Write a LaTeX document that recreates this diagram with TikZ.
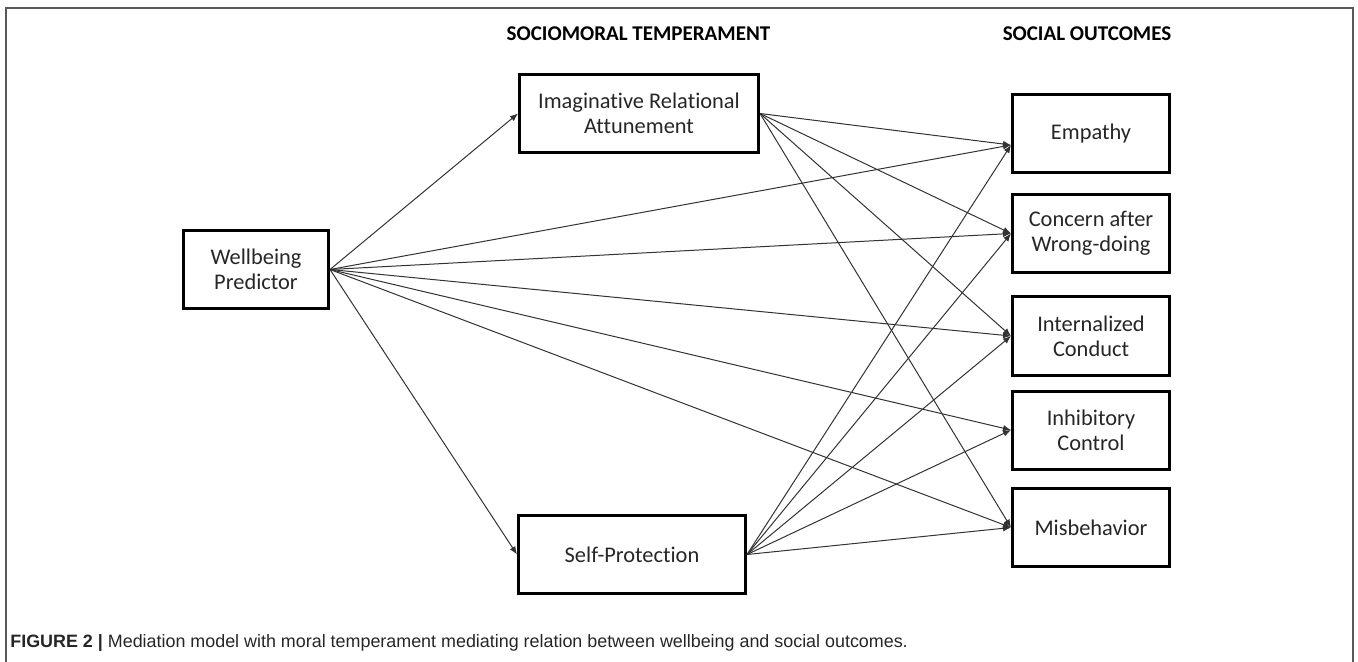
\documentclass[tikz,border=0pt]{standalone}
\usepackage{fontspec}
\setmainfont{Carlito}[Ligatures=CommonOff]
\newfontfamily\capfont{Liberation Sans}
\usetikzlibrary{calc, arrows.meta}

\begin{document}
\begin{tikzpicture}[x=0.5pt, y=-0.5pt, >={Latex[length=4pt, width=3.2pt]},
  box/.style={draw, line width=1.5pt, inner sep=0pt, align=center,
    text=black!85, font=\fontsize{11.2}{12.5}\selectfont},
  link/.style={->, line width=0.5pt, draw=black!80},
  head/.style={font=\fontsize{10.5}{12}\selectfont\bfseries}]
  \useasboundingbox (0,0) rectangle (1358,662);
  \draw [line width=0.75pt, black!65] (6,662) -- (6,8) -- (1353,8) -- (1353,662);
  % column titles
  \node (headsm) at (638.5,33.5) [head] {SOCIOMORAL TEMPERAMENT};
  \node (headso) at (1087,33.5) [head] {SOCIAL OUTCOMES};
  % predictor and mediators
  \node (well) at (256,269.5) [box, minimum width=72.5pt, minimum height=39pt] {Wellbeing\\Predictor};
  \node (ira) at (639,113.5) [box, minimum width=119.5pt, minimum height=39pt] {Imaginative Relational\\Attunement};
  \node (self) at (632,554.5) [box, minimum width=113.5pt, minimum height=39pt] {Self-Protection};
  % outcomes
  \node (emp) at (1091,133.5) [box, minimum width=78.5pt, minimum height=39pt] {Empathy};
  \node (con) at (1091,233.5) [box, minimum width=78.5pt, minimum height=39pt] {Concern after\\Wrong-doing};
  \node (int) at (1091,336) [box, minimum width=78.5pt, minimum height=39pt] {Internalized\\Conduct};
  \node (inh) at (1091,430) [box, minimum width=78.5pt, minimum height=39pt] {Inhibitory\\Control};
  \node (mis) at (1091,527.5) [box, minimum width=78.5pt, minimum height=39pt] {Misbehavior};
  \coordinate (empin) at ([yshift=-5.75pt]emp.west);
  % paths
  \draw [link] (well.east) -- (ira.west);
  \draw [link] (well.east) -- (self.west);
  \foreach \o in {empin, con.west, int.west, inh.west, mis.west}
    \draw [link] (well.east) -- (\o);
  \foreach \o in {empin, con.west, int.west, mis.west}
    \draw [link] (ira.east) -- (\o);
  \foreach \o in {empin, con.west, int.west, inh.west, mis.west}
    \draw [link] (self.east) -- (\o);
  % caption
  \node (cap) at (10,643) [anchor=west, inner sep=0pt, font=\capfont\fontsize{8.95}{10}\selectfont, text=black!85]
    {\textbf{FIGURE 2 |} Mediation model with moral temperament mediating relation between wellbeing and social outcomes.};
\end{tikzpicture}
\end{document}
